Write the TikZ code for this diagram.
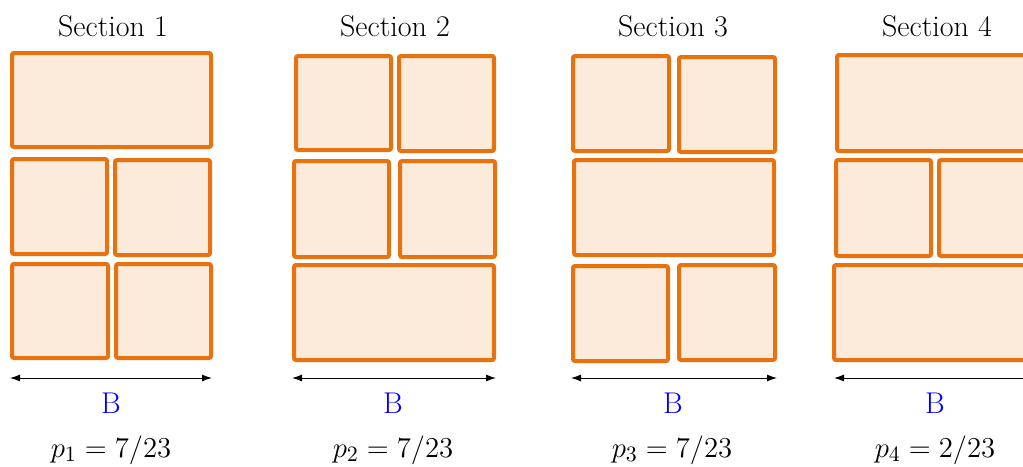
\documentclass[tikz,border=0pt]{standalone}
\usetikzlibrary{arrows.meta}
\definecolor{orangeBord}{RGB}{232,113,16}
\definecolor{orangeFond}{RGB}{252,234,219}
\begin{document}
\begin{tikzpicture}[x=0.5pt,y=-0.5pt]
			% Styles (MODIFIABLES)
			\tikzstyle{brique}=[draw=orangeBord,fill=orangeFond,line width=2pt,rounded corners=1pt]
			\tikzstyle{fleche}=[<->,>={Latex[length=5pt,width=3.5pt]},line width=0.5pt]
			\tikzstyle{titre}=[anchor=base,inner sep=0pt,font=\fontsize{15}{18}\selectfont]
			\tikzstyle{largeur}=[anchor=base,inner sep=0pt,text=blue,font=\fontsize{15}{18}\selectfont]
			\tikzstyle{proba}=[anchor=base,inner sep=0pt,font=\fontsize{15}{18}\selectfont]
			% Dimensions (MODIFIABLES)
			\def\SectionA{0}
			\def\SectionB{281}
			\def\SectionC{561}
			\def\SectionD{823}
			\def\NiveauTitre{36}
			\def\NiveauFleche{378}
			\def\NiveauB{413}
			\def\NiveauP{457}
			% Cadre
			\useasboundingbox (0,0) rectangle (1023,466);
			\clip (0,0) rectangle (1023,466);
			% Section 1
			\draw[brique] ({\SectionA+12},53) rectangle ({\SectionA+211},147);
			\draw[brique] ({\SectionA+12},159) rectangle ({\SectionA+107},254);
			\draw[brique] ({\SectionA+115},160) rectangle ({\SectionA+210},255);
			\draw[brique] ({\SectionA+12},264) rectangle ({\SectionA+108},358);
			\draw[brique] ({\SectionA+116},264) rectangle ({\SectionA+211},358);
			% Section 2
			\draw[brique] ({\SectionB+15},56) rectangle ({\SectionB+110},150);
			\draw[brique] ({\SectionB+118},56) rectangle ({\SectionB+213},151);
			\draw[brique] ({\SectionB+13},161) rectangle ({\SectionB+108},257);
			\draw[brique] ({\SectionB+119},161) rectangle ({\SectionB+214},257);
			\draw[brique] ({\SectionB+13},265) rectangle ({\SectionB+213},360);
			% Section 3
			\draw[brique] ({\SectionC+12},56) rectangle ({\SectionC+108},151);
			\draw[brique] ({\SectionC+118},57) rectangle ({\SectionC+214},152);
			\draw[brique] ({\SectionC+13},160) rectangle ({\SectionC+213},255);
			\draw[brique] ({\SectionC+12},266) rectangle ({\SectionC+107},361);
			\draw[brique] ({\SectionC+118},265) rectangle ({\SectionC+214},360);
			% Section 4
			\draw[brique] ({\SectionD+14},55) rectangle ({\SectionD+217},151);
			\draw[brique] ({\SectionD+13},160) rectangle ({\SectionD+108},256);
			\draw[brique] ({\SectionD+116},160) rectangle ({\SectionD+217},256);
			\draw[brique] ({\SectionD+11},265) rectangle ({\SectionD+217},360);
			% Titres
			\node[titre] (titre1) at ({\SectionA+113},\NiveauTitre) {Section 1};
			\node[titre] (titre2) at ({\SectionB+114},\NiveauTitre) {Section 2};
			\node[titre] (titre3) at ({\SectionC+112},\NiveauTitre) {Section 3};
			\node[titre] (titre4) at ({\SectionD+114},\NiveauTitre) {Section 4};
			% Largeurs
			\coordinate (g1) at ({\SectionA+10},\NiveauFleche);
			\coordinate (d1) at ({\SectionA+212},\NiveauFleche);
			\coordinate (g2) at ({\SectionB+11},\NiveauFleche);
			\coordinate (d2) at ({\SectionB+215},\NiveauFleche);
			\coordinate (g3) at ({\SectionC+10},\NiveauFleche);
			\coordinate (d3) at ({\SectionC+216},\NiveauFleche);
			\coordinate (g4) at ({\SectionD+11},\NiveauFleche);
			\coordinate (d4) at ({\SectionD+215},\NiveauFleche);
			\draw[fleche] (g1)--(d1);
			\draw[fleche] (g2)--(d2);
			\draw[fleche] (g3)--(d3);
			\draw[fleche] (g4)--(d4);
			\node[largeur] (B1) at ({\SectionA+111},\NiveauB) {B};
			\node[largeur] (B2) at ({\SectionB+112},\NiveauB) {B};
			\node[largeur] (B3) at ({\SectionC+112},\NiveauB) {B};
			\node[largeur] (B4) at ({\SectionD+112},\NiveauB) {B};
			% Probabilites
			\node[proba] (P1) at ({\SectionA+111},\NiveauP) {$p_1=7/23$};
			\node[proba] (P2) at ({\SectionB+112},\NiveauP) {$p_2=7/23$};
			\node[proba] (P3) at ({\SectionC+111},\NiveauP) {$p_3=7/23$};
			\node[proba] (P4) at ({\SectionD+112},\NiveauP) {$p_4=2/23$};
\end{tikzpicture}
\end{document}
